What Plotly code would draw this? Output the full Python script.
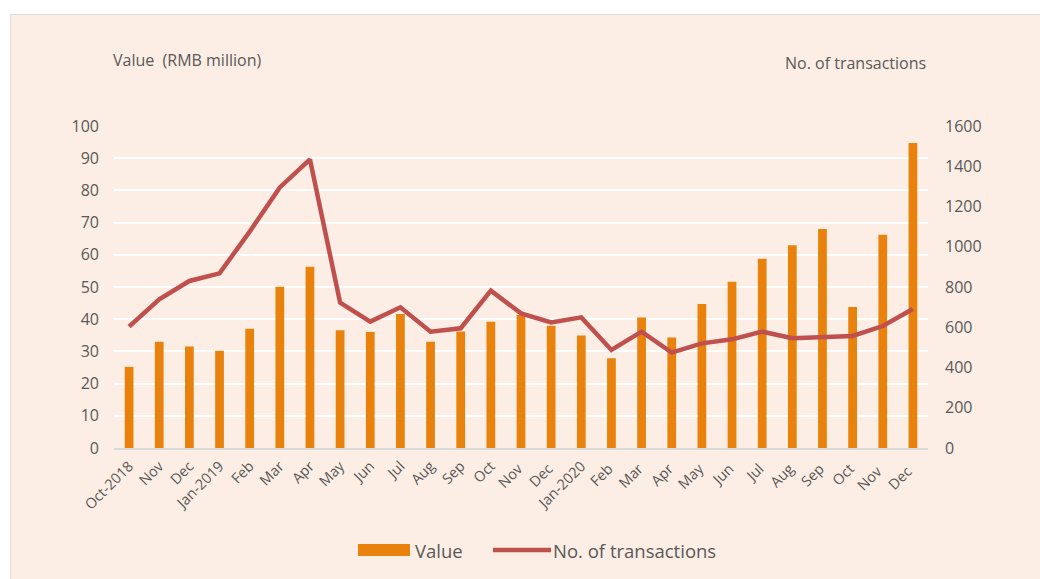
import plotly.graph_objects as go

months = ["Oct-2018", "Nov", "Dec", "Jan-2019", "Feb", "Mar", "Apr", "May", "Jun", "Jul",
          "Aug", "Sep", "Oct", "Nov ", "Dec ", "Jan-2020", "Feb ", "Mar ", "Apr ", "May ",
          "Jun ", "Jul ", "Aug ", "Sep ", "Oct ", "Nov  ", "Dec  "]
values = [25.2, 33.0, 31.5, 30.2, 37.0, 50.1, 56.3, 36.6, 36.0, 41.6,
          33.0, 36.2, 39.2, 41.3, 38.0, 34.9, 27.9, 40.5, 34.3, 44.7,
          51.6, 58.8, 63.0, 68.0, 43.8, 66.2, 94.7]
transactions = [603, 739, 830, 868, 1075, 1295, 1434, 722, 628, 699,
                578, 595, 782, 669, 624, 649, 487, 578, 474, 520,
                540, 578, 545, 550, 557, 606, 691]
left_ticks = list(range(0, 101, 10))
right_ticks = list(range(0, 1601, 200))

BG = "#FCEEE4"
BAR = "#E8820C"
LINE = "#C0504D"
TXT = "#595959"
FONT = "Open Sans"

W, H = 1040, 579
L, R, T, B = 114, 112, 126, 131
pw, ph = W - L - R, H - T - B

def px(x):
    return (x - L) / pw

def py(y):
    return (H - B - y) / ph

fig = go.Figure()
fig.add_trace(go.Bar(x=months, y=values, name="Value", marker_color=BAR,
                     marker_line_width=0, width=0.29, yaxis="y", showlegend=False))
fig.add_trace(go.Scatter(x=months, y=transactions, name="No. of transactions", mode="lines",
                         line=dict(color=LINE, width=4.5), yaxis="y2", showlegend=False))

shapes = [
    dict(type="rect", xref="paper", yref="paper", x0=px(-5), x1=px(W + 5), y0=py(14), y1=py(-5),
         fillcolor="white", line_width=0, layer="below"),
    dict(type="rect", xref="paper", yref="paper", x0=px(-5), x1=px(10), y0=py(H + 5), y1=py(-5),
         fillcolor="white", line_width=0, layer="below"),
    dict(type="line", xref="paper", yref="paper", x0=px(10.5), x1=px(W + 5), y0=py(14.5), y1=py(14.5),
         line=dict(color="#D9D9D9", width=1.2), layer="below"),
    dict(type="line", xref="paper", yref="paper", x0=px(10.5), x1=px(10.5), y0=py(14.5), y1=py(H + 5),
         line=dict(color="#E3E3E3", width=1.5), layer="below"),
    dict(type="rect", xref="paper", yref="paper", x0=px(358), x1=px(410), y0=py(556), y1=py(544),
         fillcolor=BAR, line_width=0),
    dict(type="line", xref="paper", yref="paper", x0=px(493), x1=px(551), y0=py(550), y1=py(550),
         line=dict(color=LINE, width=4.5)),
]

annotations = [
    dict(text="Value  (RMB million)", xref="paper", yref="paper", x=px(111), y=py(60),
         xanchor="left", yanchor="middle", showarrow=False, font=dict(family=FONT, size=16, color=TXT)),
    dict(text="No. of transactions", xref="paper", yref="paper", x=px(928), y=py(63),
         xanchor="right", yanchor="middle", showarrow=False, font=dict(family=FONT, size=16, color=TXT)),
    dict(text="Value", xref="paper", yref="paper", x=px(413), y=py(550),
         xanchor="left", yanchor="middle", showarrow=False, font=dict(family=FONT, size=18.5, color=TXT)),
    dict(text="No. of transactions", xref="paper", yref="paper", x=px(551), y=py(550),
         xanchor="left", yanchor="middle", showarrow=False, font=dict(family=FONT, size=18.5, color=TXT)),
]

fig.update_layout(
    width=W, height=H,
    margin=dict(l=L, r=R, t=T, b=B, pad=0),
    paper_bgcolor=BG, plot_bgcolor="rgba(0,0,0,0)",
    font=dict(family=FONT, color=TXT, size=15),
    bargap=0.7,
    shapes=shapes, annotations=annotations,
    xaxis=dict(type="category", tickangle=-45, showgrid=False, showline=True,
               linecolor="#D9D9D9", linewidth=2, ticks="", tickfont=dict(size=14.5, color=TXT),
               ticklabelstandoff=2),
    yaxis=dict(range=[0, 100], tickvals=left_ticks, showgrid=True, gridcolor="white",
               gridwidth=1.8, zeroline=False, showline=False, ticks="",
               tickfont=dict(size=16, color=TXT), ticklabelstandoff=14),
    yaxis2=dict(range=[0, 1600], tickvals=right_ticks, overlaying="y", side="right",
                showgrid=False, zeroline=False, showline=False, ticks="",
                tickfont=dict(size=16, color=TXT), ticklabelstandoff=16),
)

fig.write_html("out.html")
